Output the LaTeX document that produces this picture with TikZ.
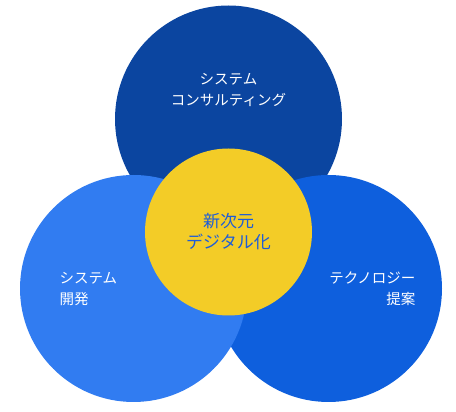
\documentclass[tikz,border=0pt]{standalone}
\usepackage{fontspec}
\setmainfont{Noto Sans CJK JP}
\usepackage{tikz}
\definecolor{consult}{HTML}{0B45A0}
\definecolor{techno}{HTML}{0E5FDD}
\definecolor{devel}{HTML}{317CF1}
\definecolor{digital}{HTML}{F3CC27}
\definecolor{digitext}{HTML}{1D5CD8}

\begin{document}
\begin{tikzpicture}[x=1pt,y=1pt,
  bubble/.style={circle,minimum size=227pt,inner sep=0pt},
  label/.style={text=white,font=\fontsize{14.5}{21}\selectfont}]
\useasboundingbox (0,0) rectangle (456,412);
\node [bubble,fill=consult] (consult) at (228.5,293) {};
\node [bubble,fill=techno]  (techno)  at (328.5,123.5) {};
\node [bubble,fill=devel]   (devel)   at (133.5,123.5) {};
\node [circle,minimum size=167pt,inner sep=0pt,fill=digital] (digital) at (228.5,180) {};
\node [label,align=center] (consulttext) at (228.5,322) {システム\\コンサルティング};
\node [label,align=left,anchor=west] (develtext) at (56,123) {システム\\開発};
\node [label,align=right,anchor=east] (technotext) at (419,123) {テクノロジー\\提案};
\node [align=center,text=digitext,font=\fontsize{17}{21}\selectfont]
  (digitaltext) at (228.5,180) {新次元\\デジタル化};
\end{tikzpicture}
\end{document}
